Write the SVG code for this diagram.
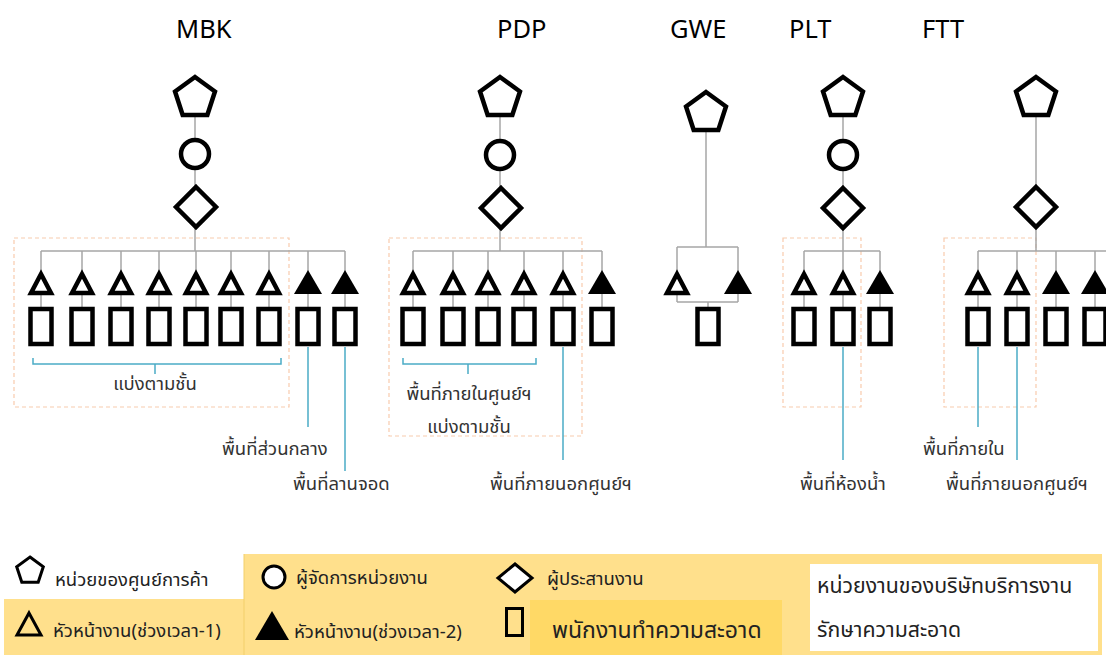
<svg xmlns="http://www.w3.org/2000/svg" xmlns:xlink="http://www.w3.org/1999/xlink" width="1106" height="655" viewBox="0 0 1106 655">
<style>
.sym{fill:#fff;stroke:#000;stroke-width:4.5;stroke-linejoin:miter}
.lsym{fill:#fff;stroke:#000;stroke-width:3;stroke-linejoin:miter}
.solid{fill:#000;stroke:none}
.con{stroke:#a6a6a6;stroke-width:1.5;fill:none}
.call{stroke:#4bacc6;stroke-width:1.5;fill:none}
.zone{fill:none;stroke:#f8cbad;stroke-width:1.2;stroke-dasharray:4 3}
.title{font-family:"Noto Sans","Open Sans","Liberation Sans",sans-serif;font-size:25.5px;fill:#000}
.th{font-family:"Noto Sans Thai","Leelawadee UI",Tahoma,"DejaVu Sans",sans-serif;font-size:18.5px;fill:#333}
.lg{font-family:"Noto Sans Thai","Leelawadee UI",Tahoma,"DejaVu Sans",sans-serif;font-size:18.5px;fill:#222}
</style>
<defs>
<polygon id="pent" points="0,-21 19.97,-6.49 12.34,16.99 -12.34,16.99 -19.97,-6.49"/>
<polygon id="dia" points="0,-20 20,0 0,20 -20,0"/>
<polygon id="tri" points="0,-10 10,9 -10,9"/>
<polygon id="triF" points="0,-14 14,10 -14,10"/>
<rect id="box" x="-10.5" y="0" width="21" height="35"/>
</defs>
<rect width="1106" height="655" fill="#fff"/>

<g id="titles">
<text class="title" x="176" y="38">MBK</text>
<text class="title" x="497" y="38">PDP</text>
<text class="title" x="670" y="38">GWE</text>
<text class="title" x="789" y="38">PLT</text>
<text class="title" x="922" y="38">FTT</text>
</g>

<g id="zones">
<rect class="zone" x="14" y="238" width="275" height="169"/>
<rect class="zone" x="389" y="238" width="193" height="198"/>
<rect class="zone" x="783" y="238" width="78" height="169"/>
<rect class="zone" x="944" y="238" width="92" height="169"/>
</g>

<g id="connectors">
<path class="con" d="M195,98 V251 M41,251 H345 M41,251 V309 M82,251 V309 M121,251 V309 M159,251 V309 M196,251 V309 M231,251 V309 M269,251 V309 M308,251 V309 M345,251 V309"/>
<path class="con" d="M500,98 V251 M413,251 H602 M413,251 V309 M453,251 V309 M488,251 V309 M524,251 V309 M563,251 V309 M602,251 V309"/>
<path class="con" d="M706,113 V247 M677,247 H738 M677,247 V302 M738,247 V302 M677,302 H738 M708,302 V309"/>
<path class="con" d="M843,98 V251 M804,251 H880 M804,251 V309 M843,251 V309 M880,251 V309"/>
<path class="con" d="M1036,98 V251 M978,251 H1106 M978,251 V309 M1017,251 V309 M1056,251 V309 M1095,251 V309"/>
<path class="call" d="M308,347 V427 M345,347 V471 M563,347 V460 M843,347 V460 M978,347 V427 M1017,347 V460"/>
<path class="call" d="M33,358 V364 H281 V358 M155,364 V374"/>
<path class="call" d="M403,358 V364 H536 V358 M468,364 V374"/>
</g>

<g id="MBK">
<g id="mbk-unit"><use href="#pent" class="sym" x="195" y="98"/></g>
<g id="mbk-manager"><circle class="sym" cx="195" cy="154" r="14"/></g>
<g id="mbk-coord"><use href="#dia" class="sym" x="196" y="207"/></g>
<g id="mbk-sup"><use href="#tri" class="sym" x="41" y="284"/><use href="#tri" class="sym" x="82" y="284"/><use href="#tri" class="sym" x="121" y="284"/><use href="#tri" class="sym" x="159" y="284"/><use href="#tri" class="sym" x="196" y="284"/><use href="#tri" class="sym" x="231" y="284"/><use href="#tri" class="sym" x="269" y="284"/><use href="#triF" class="solid" x="308" y="284"/><use href="#triF" class="solid" x="345" y="284"/></g>
<g id="mbk-staff"><use href="#box" class="sym" x="41" y="309"/><use href="#box" class="sym" x="82" y="309"/><use href="#box" class="sym" x="121" y="309"/><use href="#box" class="sym" x="159" y="309"/><use href="#box" class="sym" x="196" y="309"/><use href="#box" class="sym" x="231" y="309"/><use href="#box" class="sym" x="269" y="309"/><use href="#box" class="sym" x="308" y="309"/><use href="#box" class="sym" x="345" y="309"/></g>
</g>

<g id="PDP">
<g id="pdp-unit"><use href="#pent" class="sym" x="500" y="98"/></g>
<g id="pdp-manager"><circle class="sym" cx="500" cy="155" r="14"/></g>
<g id="pdp-coord"><use href="#dia" class="sym" x="501" y="208"/></g>
<g id="pdp-sup"><use href="#tri" class="sym" x="413" y="284"/><use href="#tri" class="sym" x="453" y="284"/><use href="#tri" class="sym" x="488" y="284"/><use href="#tri" class="sym" x="524" y="284"/><use href="#tri" class="sym" x="563" y="284"/><use href="#triF" class="solid" x="602" y="284"/></g>
<g id="pdp-staff"><use href="#box" class="sym" x="413" y="309"/><use href="#box" class="sym" x="453" y="309"/><use href="#box" class="sym" x="488" y="309"/><use href="#box" class="sym" x="524" y="309"/><use href="#box" class="sym" x="563" y="309"/><use href="#box" class="sym" x="602" y="309"/></g>
</g>

<g id="GWE">
<g id="gwe-unit"><use href="#pent" class="sym" x="706" y="113"/></g>
<g id="gwe-sup"><use href="#tri" class="sym" x="677" y="284"/><use href="#triF" class="solid" x="738" y="284"/></g>
<g id="gwe-staff"><use href="#box" class="sym" x="708" y="309"/></g>
</g>

<g id="PLT">
<g id="plt-unit"><use href="#pent" class="sym" x="843" y="98"/></g>
<g id="plt-manager"><circle class="sym" cx="843" cy="155" r="14"/></g>
<g id="plt-coord"><use href="#dia" class="sym" x="843" y="208"/></g>
<g id="plt-sup"><use href="#tri" class="sym" x="804" y="284"/><use href="#tri" class="sym" x="843" y="284"/><use href="#triF" class="solid" x="880" y="284"/></g>
<g id="plt-staff"><use href="#box" class="sym" x="804" y="309"/><use href="#box" class="sym" x="843" y="309"/><use href="#box" class="sym" x="880" y="309"/></g>
</g>

<g id="FTT">
<g id="ftt-unit"><use href="#pent" class="sym" x="1036" y="98"/></g>
<g id="ftt-coord"><use href="#dia" class="sym" x="1036" y="207"/></g>
<g id="ftt-sup"><use href="#tri" class="sym" x="978" y="284"/><use href="#tri" class="sym" x="1017" y="284"/><use href="#triF" class="solid" x="1056" y="284"/><use href="#triF" class="solid" x="1095" y="284"/></g>
<g id="ftt-staff"><use href="#box" class="sym" x="978" y="309"/><use href="#box" class="sym" x="1017" y="309"/><use href="#box" class="sym" x="1056" y="309"/><use href="#box" class="sym" x="1095" y="309"/></g>
</g>

<g id="labels">
<text class="th" x="155" y="390" text-anchor="middle">แบ่งตามชั้น</text>
<text class="th" x="222" y="455">พื้นที่ส่วนกลาง</text>
<text class="th" x="293" y="490">พื้นที่ลานจอด</text>
<text class="th" x="469" y="400" text-anchor="middle">พื้นที่ภายในศูนย์ฯ</text>
<text class="th" x="469" y="433" text-anchor="middle">แบ่งตามชั้น</text>
<text class="th" x="490" y="490">พื้นที่ภายนอกศูนย์ฯ</text>
<text class="th" x="800" y="490">พื้นที่ห้องน้ำ</text>
<text class="th" x="923" y="455">พื้นที่ภายใน</text>
<text class="th" x="946" y="490">พื้นที่ภายนอกศูนย์ฯ</text>
</g>

<g id="legend">
<rect x="244" y="554" width="858" height="101" fill="#ffe08c"/>
<rect x="4" y="599" width="240" height="56" fill="#ffe08c"/>
<line x1="244" y1="554" x2="244" y2="655" stroke="#f2cf6a" stroke-width="1"/>
<rect x="530" y="600" width="252" height="55" fill="#ffd966"/>
<rect x="810" y="564" width="288" height="87" fill="#fff"/>
<g id="lg-unit"><polygon class="lsym" points="30,557 43.3,566.7 38.2,582.3 21.8,582.3 16.7,566.7"/><text class="lg" x="55" y="586">หน่วยของศูนย์การค้า</text></g>
<g id="lg-manager"><circle class="lsym" cx="274" cy="577" r="11"/><text class="lg" x="296" y="584">ผู้จัดการหน่วยงาน</text></g>
<g id="lg-coord"><polygon class="lsym" points="515,564 532,578 515,592 498,578" fill="none"/><text class="lg" x="547" y="585">ผู้ประสานงาน</text></g>
<g id="lg-sup1"><polygon class="lsym" points="29,613 41,635 17,635" style="fill:none"/><text class="lg" x="53" y="637">หัวหน้างาน(ช่วงเวลา-1)</text></g>
<g id="lg-sup2"><polygon class="solid" points="272,611 289,640 255,640"/><text class="lg" x="294" y="638">หัวหน้างาน(ช่วงเวลา-2)</text></g>
<g id="lg-staff"><rect class="lsym" x="506.5" y="608.5" width="16" height="27" style="fill:none"/><text class="lg" x="552" y="638" style="font-size:23px">พนักงานทำความสะอาด</text></g>
<g id="lg-company"><text class="lg" x="817" y="593" style="font-size:21.3px">หน่วยงานของบริษัทบริการงาน</text><text class="lg" x="817" y="637" style="font-size:21.3px">รักษาความสะอาด</text></g>
</g>
</svg>
